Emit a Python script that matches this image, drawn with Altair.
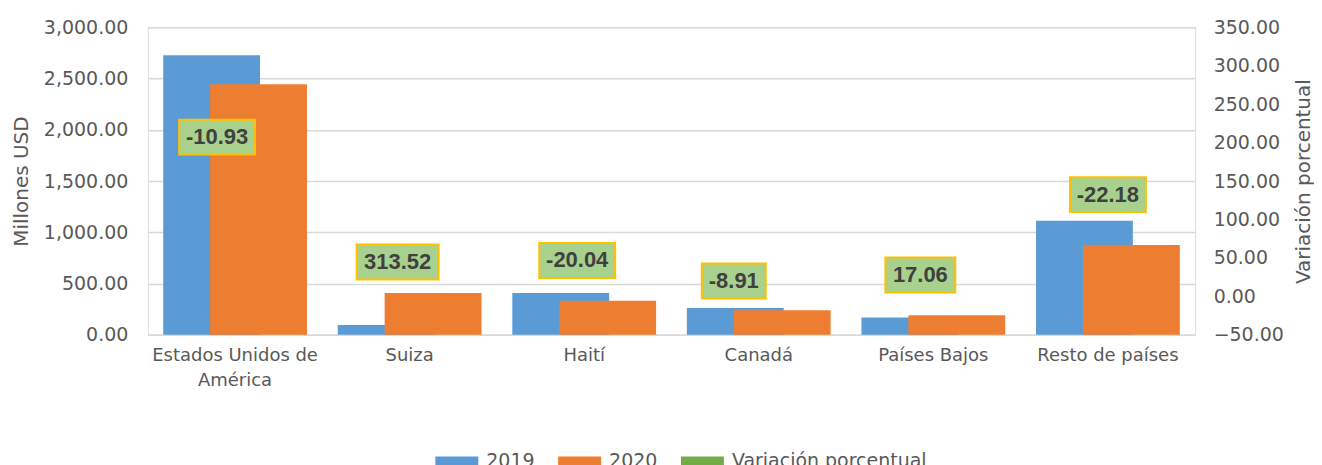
import altair as alt
import pandas as pd

categories = ["Estados Unidos de América", "Suiza", "Haití", "Canadá", "Países Bajos", "Resto de países"]
v2019 = [2727, 97, 409, 263, 169, 1113]
v2020 = [2445, 409, 334, 240, 192, 877]
pct = [-10.93, 313.52, -20.04, -8.91, 17.06, -22.18]
label_pos = [1929, 711, 726, 526, 584, 1368]  # where each data label sits, in Millones USD units
label_dx = [-18, -12, -7, -25, -13, 0]        # horizontal nudge of each data label
series = ["2019", "2020", "Variación porcentual"]
colors = ["#5B9BD5", "#ED7D31", "#70AD47"]

FONT = "DejaVu Sans"
GRAY = "#595959"

rows = []
for c, a, b in zip(categories, v2019, v2020):
    rows.append({"cat": c, "series": "2019", "value": a})
    rows.append({"cat": c, "series": "2020", "value": b})
bars_df = pd.DataFrame(rows)
pct_df = pd.DataFrame({"cat": categories, "pct": pct, "lab": label_pos,
                       "series": ["Variación porcentual"] * len(categories)})
pct_df["txt"] = [f"{p:.2f}" for p in pct]

x_enc = alt.X("cat:N", sort=categories, title=None,
              scale=alt.Scale(paddingInner=0, paddingOuter=0),
              axis=alt.Axis(labelAngle=0, labelFontSize=18, labelFont=FONT, labelColor=GRAY,
                            labelPadding=12, ticks=False, domainColor="#D9D9D9", domainWidth=1.5,
                            labelExpr="datum.label == 'Estados Unidos de América' ? ['Estados Unidos de', 'América'] : datum.label",
                            labelLineHeight=25))

color_enc = alt.Color("series:N", scale=alt.Scale(domain=series, range=colors),
                      legend=alt.Legend(orient="none", legendX=283, legendY=408,
                                        title=None, direction="horizontal",
                                        labelFontSize=19, labelFont=FONT, labelColor=GRAY,
                                        labelLimit=400,
                                        symbolType="stroke", symbolStrokeWidth=10, symbolSize=1849,
                                        symbolOpacity=1, columnPadding=3, labelOffset=3))

y_left = alt.Y("value:Q", title="Millones USD",
               scale=alt.Scale(domain=[0, 3000], nice=False),
               axis=alt.Axis(values=[0, 500, 1000, 1500, 2000, 2500, 3000], format=",.2f",
                             labelFontSize=19, labelFont=FONT, labelColor=GRAY, ticks=False,
                             domain=False, gridColor="#D9D9D9", gridWidth=1.5, labelPadding=20,
                             titleFontSize=20, titleFont=FONT, titleColor=GRAY, titleFontWeight="normal",
                             titlePadding=12))

base_bars = alt.Chart(bars_df)
blue = base_bars.transform_filter("datum.series == '2019'").mark_bar(width=97, xOffset=-23.5).encode(
    x=x_enc, y=y_left, color=color_enc)
orange = base_bars.transform_filter("datum.series == '2020'").mark_bar(width=97, xOffset=23.5).encode(
    x=x_enc, y=y_left, color=color_enc)

layers = [blue, orange]
for c, t, dx in zip(categories, pct_df["txt"], label_dx):
    digits = sum(ch.isdigit() for ch in t)
    w = 16 + 12 * digits + 6 * (len(t) - digits)
    sub = alt.Chart(pct_df).transform_filter(alt.datum.cat == c)
    layers.append(sub.mark_rect(width=w, height=35, xOffset=dx, fill="#A9D18E",
                                stroke="#FFC000", strokeWidth=2).encode(
        x=alt.X("cat:N", sort=categories), y=alt.Y("lab:Q")))
    layers.append(sub.mark_text(font="Liberation Sans", fontWeight="bold", fontSize=22,
                                color="#404040", dx=dx).encode(
        x=alt.X("cat:N", sort=categories), y=alt.Y("lab:Q"), text="txt:N"))
left = alt.layer(*layers)

line = alt.Chart(pct_df).mark_line(opacity=0, strokeWidth=5).encode(
    x=alt.X("cat:N", sort=categories),
    y=alt.Y("pct:Q", title="Variación porcentual",
            scale=alt.Scale(domain=[-50, 350], nice=False),
            axis=alt.Axis(orient="right", values=list(range(-50, 351, 50)), format=".2f",
                          labelFontSize=19, labelFont=FONT, labelColor=GRAY, ticks=False,
                          domain=False, grid=False, labelPadding=18,
                          titleFontSize=20, titleFont=FONT, titleColor=GRAY, titleAngle=270,
                          titleFontWeight="normal", titlePadding=30)),
    color=color_enc)

chart = alt.layer(left, line).resolve_scale(y="independent").properties(
    width=1049, height=308, padding={"top": 10, "left": 3, "right": 0, "bottom": 5}
).configure_view(stroke=None).configure(background="white")

chart.save("out.html", embed_options={"renderer": "svg", "actions": False})
